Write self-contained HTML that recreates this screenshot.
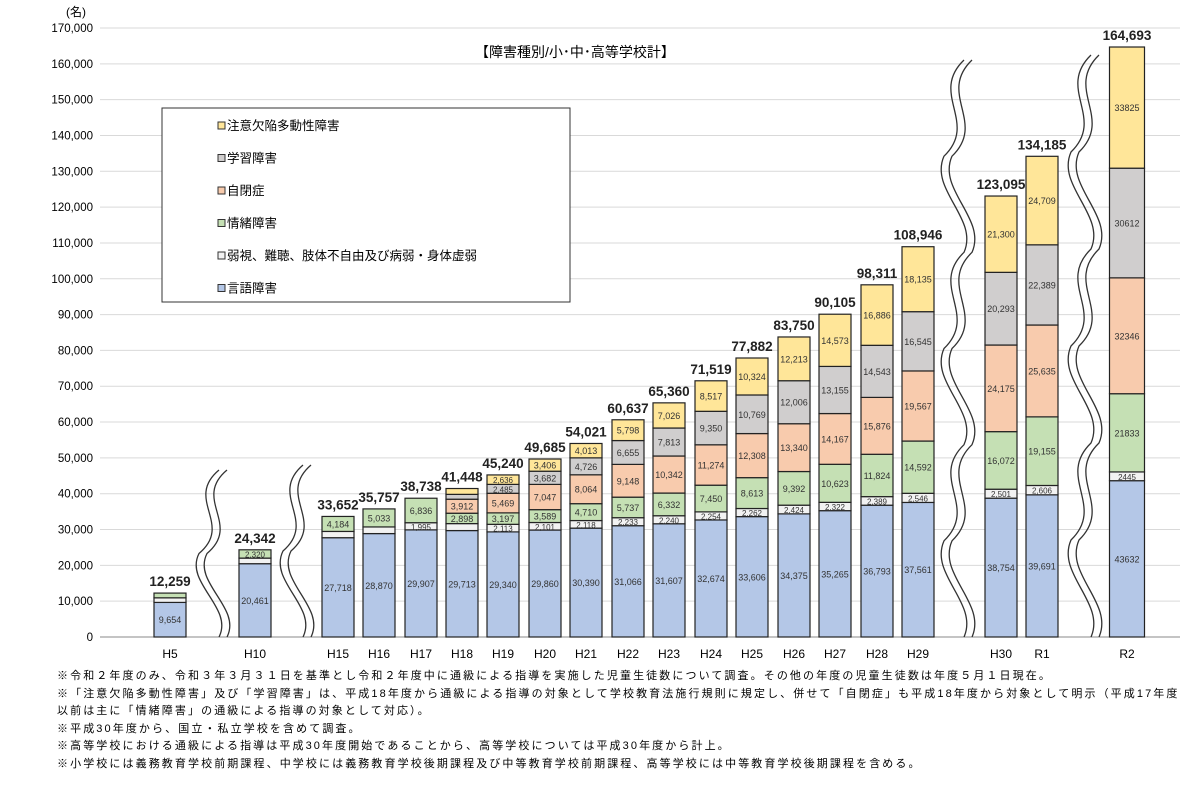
<!DOCTYPE html>
<html><head><meta charset="utf-8"><style>
body{margin:0;background:#fff;width:1198px;height:795px;overflow:hidden;font-family:"Liberation Sans","Noto Sans CJK JP",sans-serif}
svg text{font-family:"Liberation Sans","Noto Sans CJK JP",sans-serif}
.note{position:absolute;left:57px;font-size:11px;color:#000;white-space:nowrap;line-height:17.5px;letter-spacing:2.1px}
</style></head><body>
<svg id="chart" width="1198" height="795" style="position:absolute;left:0;top:0"></svg>
<div class="note" style="top:668px">※令和２年度のみ、令和３年３月３１日を基準とし令和２年度中に通級による指導を実施した児童生徒数について調査。その他の年度の児童生徒数は年度５月１日現在。<br>※「注意欠陥多動性障害」及び「学習障害」は、平成18年度から通級による指導の対象として学校教育法施行規則に規定し、併せて「自閉症」も平成18年度から対象として明示（平成17年度<br>以前は主に「情緒障害」の通級による指導の対象として対応）。<br>※平成30年度から、国立・私立学校を含めて調査。<br>※高等学校における通級による指導は平成30年度開始であることから、高等学校については平成30年度から計上。<br>※小学校には義務教育学校前期課程、中学校には義務教育学校後期課程及び中等教育学校前期課程、高等学校には中等教育学校後期課程を含める。</div>
<script>
const categories=["H5","H10","H15","H16","H17","H18","H19","H20","H21","H22","H23","H24","H25","H26","H27","H28","H29","H30","R1","R2"];
const speech=[9654,20461,27718,28870,29907,29713,29340,29860,30390,31066,31607,32674,33606,34375,35265,36793,37561,38754,39691,43632];
const physical=[1282,1561,1750,1854,1995,1943,2113,2101,2118,2233,2240,2254,2262,2424,2322,2389,2546,2501,2606,2445];
const emotional=[1323,2320,4184,5033,6836,2898,3197,3589,4710,5737,6332,7450,8613,9392,10623,11824,14592,16072,19155,21833];
const autism=[0,0,0,0,0,3912,5469,7047,8064,9148,10342,11274,12308,13340,14167,15876,19567,24175,25635,32346];
const ld=[0,0,0,0,0,1351,2485,3682,4726,6655,7813,9350,10769,12006,13155,14543,16545,20293,22389,30612];
const adhd=[0,0,0,0,0,1631,2636,3406,4013,5798,7026,8517,10324,12213,14573,16886,18135,21300,24709,33825];
const totals=[12259,24342,33652,35757,38738,41448,45240,49685,54021,60637,65360,71519,77882,83750,90105,98311,108946,123095,134185,164693];
const yTicks=[0,10000,20000,30000,40000,50000,60000,70000,80000,90000,100000,110000,120000,130000,140000,150000,160000,170000];
const seriesNames=["言語障害","弱視、難聴、肢体不自由及び病弱・身体虚弱","情緒障害","自閉症","学習障害","注意欠陥多動性障害"];
const seriesKeys=["speech","physical","emotional","autism","ld","adhd"];
const colors=["#b4c7e7","#f2f2f2","#c5e0b4","#f8cbad","#d0cece","#ffe699"];
const xCenters=[170,255,338,379,421,462,503,545,586,628,669,711,752,794,835,877,918,1001,1042,1127];
const NS="http://www.w3.org/2000/svg";
const svg=document.getElementById('chart');
const y0=637,yTop=28,yMax=170000;
function y(v){return y0-(v/yMax)*(y0-yTop);}
function mk(t,a,p){const e=document.createElementNS(NS,t);for(const k in a)e.setAttribute(k,a[k]);(p||svg).appendChild(e);return e;}
function fmt(v){return v.toLocaleString('en-US');}
yTicks.forEach(v=>{
  const g=mk('line',{x1:100,x2:1180,y1:y(v),y2:y(v),stroke:v===0?'#888':'#d9d9d9','stroke-width':1});
  
  
  const t=mk('text',{x:93,y:y(v)+4,'text-anchor':'end','font-size':11.5,fill:'#000'});
  t.textContent=v===0?'0':fmt(v);
  
  
});
const unit=mk('text',{x:66,y:16,'font-size':12});unit.textContent='(名)';


const data=[speech,physical,emotional,autism,ld,adhd];
categories.forEach((c,i)=>{
  const w=i===19?35:32, x=xCenters[i]-w/2;
  let acc=0;
  data.forEach((s,k)=>{
    const v=s[i]; if(!v)return;
    const r=mk('rect',{x:x,y:y(acc+v),width:w,height:y(acc)-y(acc+v),fill:colors[k],stroke:'#222','stroke-width':1.2});
    
    
    const hpx=y(acc)-y(acc+v);
    if(hpx>7){
      const t=mk('text',{x:xCenters[i],y:(y(acc)+y(acc+v))/2+3.5,'text-anchor':'middle','font-size':hpx<10?8:9,fill:'#333'});
      t.textContent=i===19?String(v):fmt(v);
      
      
    }
    acc+=v;
  });
  const tt=mk('text',{x:xCenters[i],y:y(totals[i])-7,'text-anchor':'middle','font-size':13.5,'font-weight':'bold',fill:'#222'});
  tt.textContent=fmt(totals[i]);
  
  
  const xl=mk('text',{x:xCenters[i],y:658,'text-anchor':'middle','font-size':12});
  xl.textContent=c;
  
  
});
[[213,470,637],[297,465,637],[958,60,637],[1085,55,637]].forEach(([cx,t,b])=>{
  for(const off of [-4,4]){
    let d='M'+(cx+off+10)+' '+t;const n=Math.round((b-t)/90);const step=(b-t)/Math.max(n,1);
    for(let j=0;j<Math.max(n,1);j++){const ys=t+j*step;d+=' C'+(cx+off-25)+' '+(ys+step*0.35)+' '+(cx+off+25)+' '+(ys+step*0.65)+' '+(cx+off+(j%2?10:-10))+' '+(ys+step);}
    const p=mk('path',{d:d,fill:'none',stroke:'#333','stroke-width':1.3});
    
    
  }
});
const title=mk('text',{x:575,y:57,'text-anchor':'middle','font-size':14});
title.textContent='【障害種別/小･中･高等学校計】';


const lb=mk('rect',{x:162,y:108,width:408,height:194,fill:'#fff',stroke:'#333','stroke-width':1});


[5,4,3,2,1,0].forEach((k,j)=>{
  const ly=126+j*32.5;
  const s=mk('rect',{x:218,y:ly-4,width:7,height:7,fill:colors[k],stroke:'#333','stroke-width':1});
  
  
  const t=mk('text',{x:227,y:ly+4,'font-size':12.5});
  t.textContent=seriesNames[k];
  
  
});
</script>
</body></html>
